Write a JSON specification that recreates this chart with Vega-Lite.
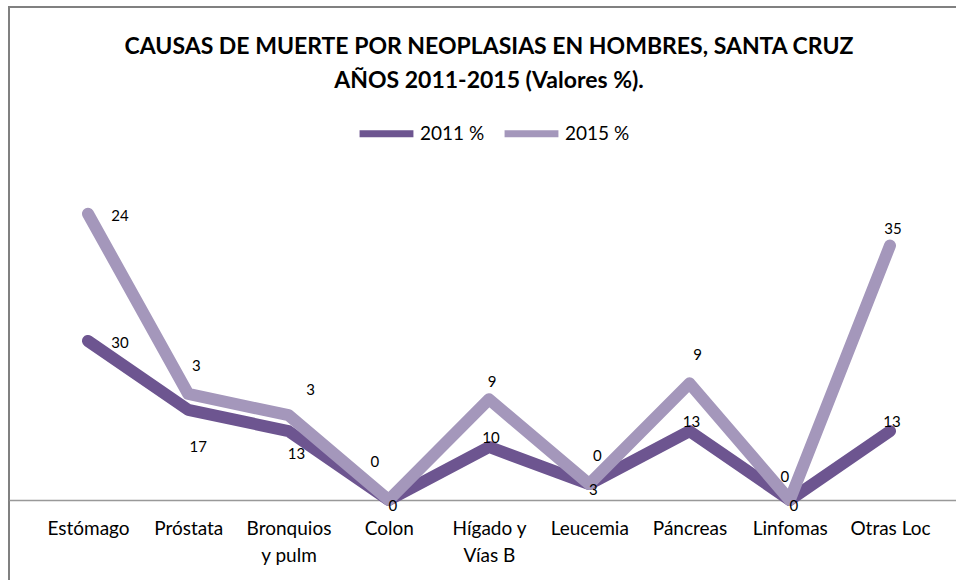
{
  "$schema": "https://vega.github.io/schema/vega-lite/v6.json",
  "width": 960,
  "height": 599,
  "autosize": {"type": "none"},
  "padding": {"left": 9, "top": 7, "right": 0, "bottom": 0},
  "background": "white",
  "title": {
    "text": ["CAUSAS DE MUERTE POR NEOPLASIAS EN HOMBRES, SANTA CRUZ", "AÑOS 2011-2015 (Valores %)."],
    "offset": -86,
    "anchor": "middle",
    "frame": "group",
    "font": "Lato",
    "fontSize": 23,
    "fontWeight": "bold",
    "color": "#000000",
    "lineHeight": 34
  },
  "config": {
    "view": {"stroke": "#808080", "strokeWidth": 2},
    "text": {"font": "Lato", "fontSize": 15, "color": "#000000"}
  },
  "data": {
    "values": [
      {"cat": "Estómago", "series": "2011 %", "value": 30},
      {"cat": "Próstata", "series": "2011 %", "value": 17},
      {"cat": "Bronquios y pulm", "series": "2011 %", "value": 13},
      {"cat": "Colon", "series": "2011 %", "value": 0},
      {"cat": "Hígado y Vías B", "series": "2011 %", "value": 10},
      {"cat": "Leucemia", "series": "2011 %", "value": 3},
      {"cat": "Páncreas", "series": "2011 %", "value": 13},
      {"cat": "Linfomas", "series": "2011 %", "value": 0},
      {"cat": "Otras Loc", "series": "2011 %", "value": 13},
      {"cat": "Estómago", "series": "2015 %", "value": 24},
      {"cat": "Próstata", "series": "2015 %", "value": 3},
      {"cat": "Bronquios y pulm", "series": "2015 %", "value": 3},
      {"cat": "Colon", "series": "2015 %", "value": 0},
      {"cat": "Hígado y Vías B", "series": "2015 %", "value": 9},
      {"cat": "Leucemia", "series": "2015 %", "value": 0},
      {"cat": "Páncreas", "series": "2015 %", "value": 9},
      {"cat": "Linfomas", "series": "2015 %", "value": 0},
      {"cat": "Otras Loc", "series": "2015 %", "value": 35}
    ]
  },
  "transform": [
    {"stack": "value", "groupby": ["cat"], "sort": [{"field": "series", "order": "ascending"}], "as": ["v0", "v1"]}
  ],
  "encoding": {
    "x": {
      "field": "cat",
      "type": "nominal",
      "sort": ["Estómago", "Próstata", "Bronquios y pulm", "Colon", "Hígado y Vías B", "Leucemia", "Páncreas", "Linfomas", "Otras Loc"],
      "scale": {"type": "point", "padding": 0.788},
      "axis": {
        "title": null,
        "labelAngle": 0,
        "ticks": false,
        "grid": false,
        "offset": -106,
        "domainColor": "#999999",
        "domainWidth": 1.5,
        "labelFont": "Lato",
        "labelFontSize": 19,
        "labelColor": "#000000",
        "labelPadding": 19,
        "labelLineHeight": 27,
        "labelExpr": "datum.value == 'Bronquios y pulm' ? ['Bronquios', 'y pulm'] : datum.value == 'Hígado y Vías B' ? ['Hígado y', 'Vías B'] : datum.label"
      }
    },
    "y": {
      "field": "v1",
      "type": "quantitative",
      "scale": {"domain": [-20, 93], "nice": false, "zero": false},
      "axis": null
    }
  },
  "layer": [
    {
      "mark": {"type": "line", "strokeWidth": 12, "strokeCap": "round", "strokeJoin": "round"},
      "encoding": {
        "color": {
          "field": "series",
          "type": "nominal",
          "scale": {"domain": ["2011 %", "2015 %"], "range": ["#6D5590", "#A497BB"]},
          "legend": {
            "orient": "none",
            "legendX": 347,
            "legendY": 96,
            "direction": "horizontal",
            "title": null,
            "labelFont": "Lato",
            "labelFontSize": 19,
            "labelColor": "#000000",
            "symbolType": "stroke",
            "symbolSize": 2900,
            "symbolStrokeWidth": 7,
            "columnPadding": 5,
            "labelOffset": 3
          }
        }
      }
    },
    {
      "transform": [{"filter": "datum.cat == 'Estómago'"}],
      "mark": {"type": "text", "dx": 32, "dy": 2},
      "encoding": {"text": {"field": "value"}}
    },
    {
      "transform": [{"filter": "datum.series == '2015 %' && indexof(['Próstata', 'Leucemia', 'Páncreas'], datum.cat) >= 0"}],
      "mark": {"type": "text", "dx": 8, "dy": -28},
      "encoding": {"text": {"field": "value"}}
    },
    {
      "transform": [{"filter": "datum.series == '2015 %' && datum.cat == 'Bronquios y pulm'"}],
      "mark": {"type": "text", "dx": 22, "dy": -25},
      "encoding": {"text": {"field": "value"}}
    },
    {
      "transform": [{"filter": "datum.series == '2015 %' && indexof(['Hígado y Vías B', 'Otras Loc'], datum.cat) >= 0"}],
      "mark": {"type": "text", "dx": 3, "dy": -17},
      "encoding": {"text": {"field": "value"}}
    },
    {
      "transform": [{"filter": "datum.series == '2015 %' && datum.cat == 'Colon'"}],
      "mark": {"type": "text", "dx": -14, "dy": -38},
      "encoding": {"text": {"field": "value"}}
    },
    {
      "transform": [{"filter": "datum.series == '2015 %' && datum.cat == 'Linfomas'"}],
      "mark": {"type": "text", "dx": -5, "dy": -23},
      "encoding": {"text": {"field": "value"}}
    },
    {
      "transform": [{"filter": "datum.series == '2011 %' && datum.cat == 'Próstata'"}],
      "mark": {"type": "text", "dx": 10, "dy": 37},
      "encoding": {"text": {"field": "value"}}
    },
    {
      "transform": [{"filter": "datum.series == '2011 %' && datum.cat == 'Bronquios y pulm'"}],
      "mark": {"type": "text", "dx": 8, "dy": 23},
      "encoding": {"text": {"field": "value"}}
    },
    {
      "transform": [{"filter": "datum.series == '2011 %' && indexof(['Colon', 'Leucemia', 'Linfomas'], datum.cat) >= 0"}],
      "mark": {"type": "text", "dx": 4, "dy": 6},
      "encoding": {"text": {"field": "value"}}
    },
    {
      "transform": [{"filter": "datum.series == '2011 %' && indexof(['Hígado y Vías B', 'Páncreas', 'Otras Loc'], datum.cat) >= 0"}],
      "mark": {"type": "text", "dx": 2, "dy": -9},
      "encoding": {"text": {"field": "value"}}
    }
  ]
}
